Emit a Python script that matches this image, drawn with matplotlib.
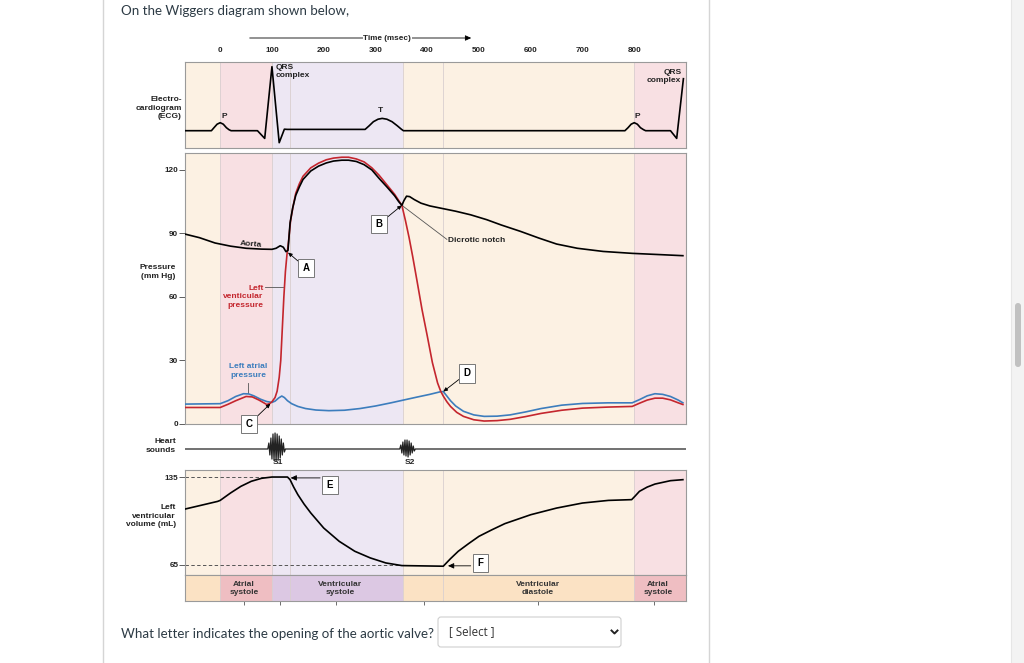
import matplotlib
matplotlib.use("Agg")
import matplotlib.pyplot as plt
from matplotlib.patches import Rectangle, FancyBboxPatch

W, H = 1024, 663
DIAG_FONT = "Liberation Sans"
PAGE_FONT = "Lato"

# time axis (msec)
t_ticks = [0, 100, 200, 300, 400, 500, 600, 700, 800]
t_min, t_max = -68, 900

# cardiac phases
phase_edges = [-68, 0, 100, 354, 800, 900]
phase_light = ["#fcf1e3", "#f8e0e3", "#ede7f3", "#fcf1e3", "#f8e0e3"]
phase_dark = ["#fbe2c4", "#efbec2", "#dcc8e3", "#fbe2c4", "#efbec2"]
extra_lines = [135, 431]
band_labels = ["Atrial\nsystole", "Ventricular\nsystole", "Ventricular\ndiastole", "Atrial\nsystole"]
band_label_t = [46, 232, 614, 846]
band_ticks = [46, 116, 224, 394, 614, 838]

# ECG (arbitrary units, baseline 0)
ecg_t = [-68, -17, -12, -6, 0, 6, 12, 17, 21, 72, 86, 100, 114, 124, 130,
         280, 288, 296, 305, 313, 322, 332, 342, 350, 354,
         782, 788, 794, 800, 806, 812, 818, 822, 870, 882, 895]
ecg_v = [0, 0, 3, 6.5, 8, 6.5, 3, 1, 0, 0, -7.7, 64, -12, 1.5, 1.3,
         1.3, 5, 9, 11.5, 12.3, 11.5, 9, 5, 1.5, 0,
         0, 3, 6.5, 8, 6.5, 3, 1, 0, 0, -7.7, 52]

# pressures (mm Hg)
aorta_t = [-68, -40, -10, 20, 50, 80, 100, 108, 116, 122, 127, 131, 135, 140, 146, 153, 160, 175,
           190, 205, 219, 235, 248, 263, 278, 293, 307, 322, 337, 345, 351, 355, 360, 366, 375,
           388, 405, 429, 455, 484, 515, 543, 580, 616, 650, 690, 740, 796, 850, 894]
aorta_p = [89.7, 88, 85.5, 84, 83, 82.6, 82.5, 83, 84.2, 83.5, 81.4, 82, 95, 102, 108, 112, 115.5, 119.5,
           121.8, 123.3, 124.2, 124.6, 124.6, 124, 122.5, 120, 116, 112, 107.8, 105, 103.3, 105.5, 107.6, 107.4, 106,
           104.3, 103, 101.8, 100.5, 98.8, 96.5, 94, 91, 87.8, 85, 83, 81.5, 80.6, 80, 79.5]

lv_t = [-68, 0, 15, 30, 50, 62, 75, 90, 96, 100, 106, 110, 114, 117, 120, 123, 126, 129, 132, 136,
        141, 146, 153, 160, 175, 190, 205, 219, 235, 248, 263, 278, 293, 307, 322, 337, 345, 351,
        358, 365, 372, 380, 390, 400, 410, 420, 426, 431, 438, 445, 457, 470, 490, 510, 535, 560,
        590, 620, 660, 700, 750, 796, 810, 825, 840, 855, 870, 885, 894]
lv_p = [7.8, 7.8, 9.3, 11, 13, 12.8, 11.3, 9.2, 9.7, 10.5, 12.5, 15.5, 22, 30, 45, 60, 72, 80, 86, 96,
        103, 109, 113.5, 117, 121, 123.2, 124.8, 125.6, 126, 126, 125.2, 123.8, 121, 117.5, 113, 108.5, 105.5, 103.3,
        96, 88, 79, 68, 54, 41.7, 29, 19.4, 15.5, 13.2, 10.5, 8.3, 5.5, 3.6, 2, 1.4, 1.6, 2.2,
        3.5, 5, 6.5, 7.5, 8, 8.3, 9.8, 11.3, 12.2, 12.2, 11.4, 10, 9.2]

la_t = [-68, 0, 15, 30, 45, 55, 65, 78, 90, 100, 106, 113, 119, 124, 130, 138, 150, 165, 185, 210,
        240, 270, 300, 330, 354, 380, 405, 425, 431, 437, 445, 455, 470, 490, 510, 535, 560, 590,
        620, 660, 700, 750, 796, 810, 825, 840, 855, 870, 885, 894]
la_p = [9.4, 9.6, 11, 13, 14.3, 14.2, 13.3, 11.7, 10.6, 10.2, 10.8, 12.3, 13.2, 12.5, 11, 9.6, 8.3, 7.3, 6.6, 6.3,
        6.5, 7.3, 8.5, 10, 11.3, 12.7, 14, 15.2, 15.3, 13.5, 11, 8.5, 6, 4.3, 3.6, 3.7, 4.3, 5.7,
        7.3, 8.9, 9.7, 10, 10, 11.5, 13.3, 14.3, 14, 13, 11.3, 10]

# heart sounds (deflection)
s1_t = [92, 94, 96, 98, 100, 102, 104, 106, 108, 110, 112, 114, 116, 118, 120, 122, 124, 126]
s1_a = [0, 6, -6, 11, -10, 15, -11, 16, -12, 15, -11, 13, -9, 10, -6, 6, -3, 0]
s2_t = [347, 349, 351, 353, 355, 357, 359, 361, 363, 365, 367, 369, 371, 373, 375, 377]
s2_a = [0, 4, -4, 7, -6, 9, -7, 9, -8, 8, -6, 6, -4, 3, -2, 0]

# left ventricular volume (mL)
vol_t = [-68, -40, -5, 0, 20, 40, 60, 80, 100, 130, 135, 142, 150, 162, 175, 200, 230, 260, 290,
         320, 351, 431, 445, 460, 480, 500, 525, 550, 600, 650, 700, 750, 795, 802, 810, 825, 840, 870, 894]
vol_v = [109.5, 112.2, 115.6, 116.4, 122.3, 127.6, 131.6, 134, 135, 135, 132.9, 127, 121, 113.5, 106.4, 94.4, 83.8, 75.9, 70.6,
         66.6, 64.5, 64, 70, 75.9, 82, 87.8, 93, 97.9, 105, 110.3, 114.3, 116.4, 117, 120, 123.6, 127, 129.4, 132.1, 132.9]

fig = plt.figure(figsize=(W / 100, H / 100), dpi=100)
fig.patch.set_facecolor("white")


def px_axes(left, top, right, bottom, **kw):
    return fig.add_axes([left / W, 1 - bottom / H, (right - left) / W, (bottom - top) / H], **kw)


def shade(ax, colors):
    for a, b, c in zip(phase_edges[:-1], phase_edges[1:], colors):
        ax.axvspan(a, b, color=c, lw=0, zorder=0)
    for x in phase_edges[1:-1] + extra_lines:
        ax.axvline(x, color="#d9cfcf", lw=0.6, zorder=0.5)
    ax.set_xlim(t_min, t_max)
    for s in ax.spines.values():
        s.set_color("#9a9a9a")
        s.set_linewidth(0.8)


def dtext(ax, x, y, s, **kw):
    kw.setdefault("fontsize", 6.0)
    kw.setdefault("fontweight", "bold")
    kw.setdefault("family", DIAG_FONT)
    kw.setdefault("color", "#222222")
    kw.setdefault("linespacing", 1.35)
    return ax.text(x, y, s, **kw)


def style_ticks(labels):
    for lab in labels:
        lab.set_fontsize(5.9)
        lab.set_fontweight("bold")
        lab.set_family(DIAG_FONT)
        lab.set_color("#222222")


arrow_kw = dict(arrowstyle="-|>,head_length=0.35,head_width=0.16", color="black", lw=0.6,
                shrinkA=0, shrinkB=0)


def letter(ax, s, xy, xytext, arrow=True):
    ax.annotate(s, xy=xy if arrow else xytext, xytext=xytext, ha="center", va="center",
                fontsize=7, fontweight="bold", family=DIAG_FONT,
                bbox=dict(boxstyle="square,pad=0.45", fc="white", ec="#777777", lw=0.7),
                arrowprops=arrow_kw if arrow else None, annotation_clip=False, zorder=6)


# ---------- page background ----------
bg = fig.add_axes([0, 0, 1, 1], zorder=-5)
bg.set_xlim(0, W)
bg.set_ylim(H, 0)
bg.axis("off")
bg.plot([103, 103], [0, H], color="#d5d5d5", lw=1)
bg.plot([709, 709], [0, H], color="#d5d5d5", lw=1)
bg.add_patch(Rectangle((1011, 0), 13, H, fc="#f3f3f3", ec="none"))
bg.plot([1011, 1011], [0, H], color="#e6e6e6", lw=0.8)
bg.add_patch(FancyBboxPatch((1015, 303), 6, 64, boxstyle="round,pad=0,rounding_size=3",
                            fc="#c1c1c1", ec="none"))
bg.text(121, 11, "On the Wiggers diagram shown below,", fontsize=9.6, family=PAGE_FONT,
        color="#2d3b45", va="center")
bg.text(121, 634, "What letter indicates the opening of the aortic valve?", fontsize=9.6,
        family=PAGE_FONT, color="#2d3b45", va="center")
bg.add_patch(FancyBboxPatch((438, 617), 183, 30, boxstyle="round,pad=0,rounding_size=3",
                            fc="white", ec="#cfcfcf", lw=0.8))
bg.text(449, 632, "[ Select ]", fontsize=8.3, family="Open Sans", color="#333333", va="center")
bg.plot([611.5, 614.5, 617.5], [630.5, 633.5, 630.5], color="#222222", lw=1.4)

# left-hand row labels
dtext(bg, 182, 108, "Electro-\ncardiogram\n(ECG)", ha="right", va="center", multialignment="right")
dtext(bg, 158, 272, "Pressure\n(mm Hg)", ha="center", va="center")
dtext(bg, 176, 446, "Heart\nsounds", ha="right", va="center", multialignment="right")
dtext(bg, 176, 516, "Left\nventricular\nvolume (mL)", ha="right", va="center", multialignment="right")

# ---------- ECG ----------
ax_e = px_axes(185, 62, 686, 148)
shade(ax_e, phase_light)
ax_e.set_ylim(-17.3, 68.7)
ax_e.plot(ecg_t, ecg_v, color="black", lw=1.2, zorder=3)
ax_e.set_yticks([])
ax_e.set_xticks(t_ticks)
ax_e.xaxis.tick_top()
ax_e.tick_params(axis="x", length=0, pad=5.5)
style_ticks(ax_e.get_xticklabels())
dtext(ax_e, 108, 67, "QRS\ncomplex", ha="left", va="top", linespacing=1.2)
dtext(ax_e, 891, 62, "QRS\ncomplex", ha="right", va="top", linespacing=1.2, multialignment="right")
dtext(ax_e, 8, 14.7, "P", ha="center", va="center")
dtext(ax_e, 806, 14.7, "P", ha="center", va="center")
dtext(ax_e, 309, 19.7, "T", ha="center", va="center")
ax_e.annotate("", xy=(485, 92.7), xytext=(57, 92.7), arrowprops=arrow_kw, annotation_clip=False)
dtext(ax_e, 323, 92.7, "Time (msec)", ha="center", va="center", fontsize=5.9,
      bbox=dict(fc="white", ec="none", pad=0.6), clip_on=False)

# ---------- pressure ----------
ax_p = px_axes(185, 153, 686, 424)
shade(ax_p, phase_light)
ax_p.set_ylim(0, 128)
ax_p.set_xticks([])
ax_p.set_yticks([0, 30, 60, 90, 120])
ax_p.tick_params(axis="y", length=4, width=0.6, pad=0.8, color="#444444")
style_ticks(ax_p.get_yticklabels())
ax_p.plot(la_t, la_p, color="#3c7dbd", lw=1.2, zorder=3)
ax_p.plot(lv_t, lv_p, color="#c4262e", lw=1.2, zorder=3)
ax_p.plot(aorta_t, aorta_p, color="black", lw=1.2, zorder=4)
dtext(ax_p, 60, 85, "Aorta", ha="center", va="center", rotation=-5)
dtext(ax_p, 84, 60, "Left\nventicular\npressure", ha="right", va="center", color="#c4262e",
      linespacing=1.3, multialignment="right")
ax_p.plot([86, 121], [64.8, 64.8], color="#555555", lw=0.6, zorder=2)
dtext(ax_p, 54, 25, "Left atrial\npressure", ha="center", va="center", color="#3c7dbd", linespacing=1.3)
ax_p.plot([54, 54], [19.3, 14.6], color="#555555", lw=0.6, zorder=2)
ax_p.plot([351, 438], [103.3, 87.2], color="#555555", lw=0.6, zorder=2)
dtext(ax_p, 440, 86.9, "Dicrotic notch", ha="left", va="center")
letter(ax_p, "A", (131, 81), (166, 73.7))
letter(ax_p, "B", (351, 103.3), (307, 94.5))
letter(ax_p, "C", (97, 9.6), (56, 0))
letter(ax_p, "D", (431, 15.3), (477, 24))

# ---------- heart sounds ----------
ax_h = px_axes(185, 430, 686, 468)
ax_h.axis("off")
ax_h.set_xlim(t_min, t_max)
ax_h.set_ylim(-19, 19)
ax_h.plot([t_min] + s1_t + s2_t + [t_max], [0] + s1_a + s2_a + [0], color="#222222", lw=0.9)
dtext(ax_h, 112, -14, "S1", ha="center", va="center")
dtext(ax_h, 367, -14, "S2", ha="center", va="center")

# ---------- volume ----------
ax_v = px_axes(185, 470, 686, 575)
shade(ax_v, phase_light)
ax_v.set_ylim(57, 140.6)
ax_v.set_xticks([])
ax_v.set_yticks([65, 135])
ax_v.tick_params(axis="y", length=4, width=0.6, pad=0.8, color="#444444")
style_ticks(ax_v.get_yticklabels())
ax_v.plot([t_min, 100], [135, 135], color="#555555", lw=0.7, dashes=(3.5, 2.5), zorder=2)
ax_v.plot([t_min, 351], [65, 65], color="#555555", lw=0.7, dashes=(3.5, 2.5), zorder=2)
ax_v.plot(vol_t, vol_v, color="black", lw=1.2, zorder=3)
letter(ax_v, "E", None, (212, 128.6), arrow=False)
ax_v.annotate("", xy=(136, 134.3), xytext=(193, 134.3), arrowprops=arrow_kw)
letter(ax_v, "F", None, (503, 66.6), arrow=False)
ax_v.annotate("", xy=(440, 64.3), xytext=(484, 64.3), arrowprops=arrow_kw)

# ---------- phase band ----------
ax_b = px_axes(185, 575, 686, 601)
shade(ax_b, phase_dark)
ax_b.set_ylim(0, 1)
ax_b.set_yticks([])
ax_b.set_xticks(band_ticks)
ax_b.tick_params(axis="x", length=3, width=0.6, color="#555555", labelbottom=False)
for t, s in zip(band_label_t, band_labels):
    dtext(ax_b, t, 0.5, s, ha="center", va="center", color="#333333", linespacing=1.2)

fig.savefig("out.png", dpi=100, facecolor="white")
